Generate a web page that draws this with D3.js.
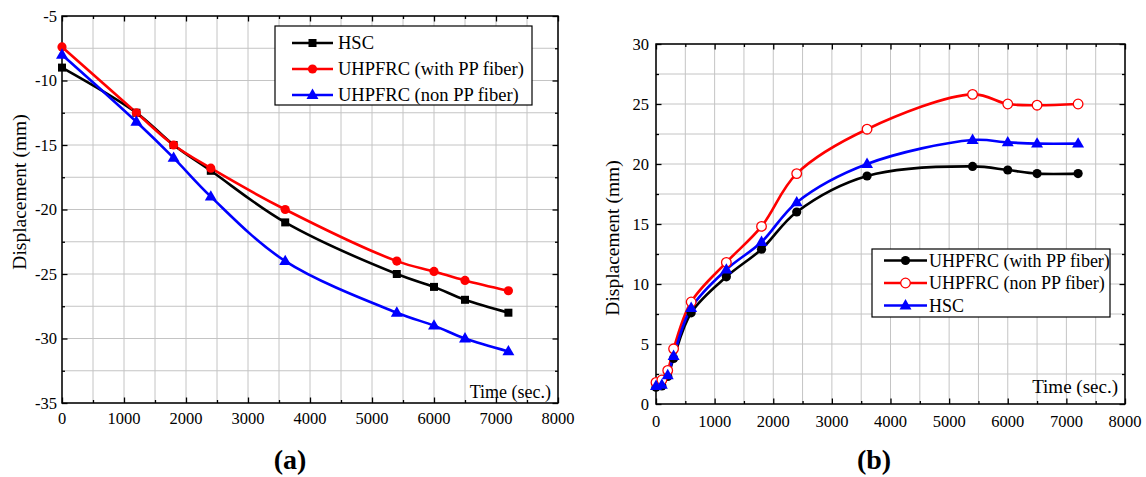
<!DOCTYPE html>
<html>
<head>
	<meta charset="utf-8">
	<title>Displacement vs time</title>
	<script src="https://d3js.org/d3.v7.min.js"></script>
	<style>
		body { margin: 0; background: #fff; }
		svg text { font-family: "Liberation Serif", "Times New Roman", "DejaVu Serif", serif; fill: #000; }
	</style>
</head>
<body>
	<svg id="chart" width="1146" height="477"></svg>
	<script type="text/javascript">
		// data ...............................
		var timeA = [0, 1200, 1800, 2400, 3600, 5400, 6000, 6500, 7200];
		var hscA = [-9, -12.5, -15, -17, -21, -25, -26, -27, -28];
		var withPPA = [-7.4, -12.5, -15, -16.8, -20, -24, -24.8, -25.5, -26.3];
		var nonPPA = [-8, -13.2, -16, -19, -24, -28, -29, -30, -31];

		var timeB = [0, 100, 200, 300, 600, 1200, 1800, 2400, 3600, 5400, 6000, 6500, 7200];
		var withPPB = [1.4, 1.5, 2.3, 3.8, 7.6, 10.6, 12.9, 16.0, 19.0, 19.8, 19.5, 19.2, 19.2];
		var nonPPB = [1.8, 2.0, 2.8, 4.6, 8.5, 11.8, 14.8, 19.2, 22.9, 25.8, 25.0, 24.9, 25.0];
		var hscB = [1.5, 1.6, 2.4, 4.0, 8.0, 11.2, 13.5, 16.8, 20.0, 22.0, 21.8, 21.7, 21.7];

		var xTicks = [0, 1000, 2000, 3000, 4000, 5000, 6000, 7000, 8000];
		var yTicksA = [-35, -30, -25, -20, -15, -10, -5];
		var yTicksB = [0, 5, 10, 15, 20, 25, 30];

		var legendA = ['HSC', 'UHPFRC (with PP fiber)', 'UHPFRC (non PP fiber)'];
		var legendB = ['UHPFRC (with PP fiber)', 'UHPFRC (non PP fiber)', 'HSC'];

		var svg = d3.select('#chart');

		//marker drawing.....................
		function marker(g, type, color, x, y) {
			if (type === 'square') {
				g.append('rect').attr('x', x - 4).attr('y', y - 4).attr('width', 8).attr('height', 8)
					.attr('fill', color);
			} else if (type === 'circle') {
				g.append('circle').attr('cx', x).attr('cy', y).attr('r', 4.6).attr('fill', color);
			} else if (type === 'open') {
				g.append('circle').attr('cx', x).attr('cy', y).attr('r', 4.8)
					.attr('fill', '#fff').attr('stroke', color).attr('stroke-width', 1.3);
			} else {
				g.append('path').attr('d', d3.symbol().type(d3.symbolTriangle).size(62)())
					.attr('transform', 'translate(' + x + ',' + (y + 0.5) + ')').attr('fill', color);
			}
		}

		//panel.................................
		function panel(p) {
			var x = d3.scaleLinear().domain([0, 8000]).range([p.left, p.right]);
			var y = d3.scaleLinear().domain(p.yDomain).range([p.bottom, p.top]);
			var g = svg.append('g');

			// grid
			var xMinor = d3.range(0, 8001, 500);
			var yMinor = d3.range(p.yDomain[0], p.yDomain[1] + 0.01, 2.5);
			g.selectAll('.gx').data(xMinor).enter().append('line')
				.attr('x1', d => x(d)).attr('x2', d => x(d)).attr('y1', p.top).attr('y2', p.bottom)
				.attr('stroke', '#c4c4c4').attr('stroke-width', 1);
			g.selectAll('.gy').data(yMinor).enter().append('line')
				.attr('y1', d => y(d)).attr('y2', d => y(d)).attr('x1', p.left).attr('x2', p.right)
				.attr('stroke', '#c4c4c4').attr('stroke-width', 1);

			// inward ticks on all four sides
			var bottomAx = d3.axisBottom(x).tickValues(xMinor).tickSize(-5).tickFormat('');
			var topAx = d3.axisTop(x).tickValues(xMinor).tickSize(-5).tickFormat('');
			var leftAx = d3.axisLeft(y).tickValues(yMinor).tickSize(-5).tickFormat('');
			var rightAx = d3.axisRight(y).tickValues(yMinor).tickSize(-5).tickFormat('');
			var axes = [
				g.append('g').attr('transform', 'translate(0,' + p.bottom + ')').call(bottomAx),
				g.append('g').attr('transform', 'translate(0,' + p.top + ')').call(topAx),
				g.append('g').attr('transform', 'translate(' + p.left + ',0)').call(leftAx),
				g.append('g').attr('transform', 'translate(' + p.right + ',0)').call(rightAx)
			];
			axes.forEach(function(a) {
				a.select('.domain').remove();
				a.selectAll('line').attr('stroke', '#000').attr('stroke-width', 1.3);
			});
			// shorter minor ticks
			axes[0].selectAll('.tick line').attr('y2', d => d % 1000 === 0 ? -5.5 : -3);
			axes[1].selectAll('.tick line').attr('y2', d => d % 1000 === 0 ? 5.5 : 3);
			axes[2].selectAll('.tick line').attr('x2', d => d % 5 === 0 ? 5.5 : 3);
			axes[3].selectAll('.tick line').attr('x2', d => d % 5 === 0 ? -5.5 : -3);

			g.append('rect').attr('x', p.left).attr('y', p.top)
				.attr('width', p.right - p.left).attr('height', p.bottom - p.top)
				.attr('fill', 'none').attr('stroke', '#000').attr('stroke-width', 1.5);

			// tick labels
			g.selectAll('.xl').data(xTicks).enter().append('text')
				.attr('x', d => x(d)).attr('y', p.bottom + p.xLabelDy)
				.attr('text-anchor', 'middle').attr('dominant-baseline', 'central')
				.style('font-size', '16.5px').text(d => d);
			g.selectAll('.yl').data(p.yTicks).enter().append('text')
				.attr('x', p.left - p.yLabelDx).attr('y', d => y(d))
				.attr('text-anchor', 'end').attr('dominant-baseline', 'central')
				.style('font-size', '16.5px').text(d => d);

			// axis titles
			g.append('text').attr('transform', 'translate(' + p.yTitleX + ',' + p.yTitleY + ') rotate(-90)')
				.attr('text-anchor', 'middle').attr('dominant-baseline', 'central')
				.style('font-size', '19.5px').text('Displacement (mm)');
			g.append('text').attr('x', p.right - 7).attr('y', p.timeY)
				.attr('text-anchor', 'end').attr('dominant-baseline', 'central')
				.style('font-size', p.timeSize).text('Time (sec.)');

			// series
			var line = d3.line().x(d => x(d[0])).y(d => y(d[1])).curve(d3.curveCatmullRom.alpha(0.5));
			p.series.forEach(function(s) {
				var pts = p.time.map((t, i) => [t, s.values[i]]);
				g.append('path').datum(pts).attr('d', line)
					.attr('fill', 'none').attr('stroke', s.color).attr('stroke-width', 2.6);
			});
			p.series.forEach(function(s) {
				p.time.forEach(function(t, i) { marker(g, s.marker, s.color, x(t), y(s.values[i])); });
			});

			// legend
			var L = p.legend;
			g.append('rect').attr('x', L.x).attr('y', L.y).attr('width', L.w).attr('height', L.h)
				.attr('fill', '#fff').attr('stroke', '#000').attr('stroke-width', 1.2);
			p.series.forEach(function(s, i) {
				var ry = L.y + L.first + i * L.step;
				g.append('line').attr('x1', L.x + L.l1).attr('x2', L.x + L.l2).attr('y1', ry).attr('y2', ry)
					.attr('stroke', s.color).attr('stroke-width', 2.6);
				marker(g, s.marker, s.color, L.x + (L.l1 + L.l2) / 2, ry);
				g.append('text').attr('x', L.x + L.tx).attr('y', ry).attr('dominant-baseline', 'central')
					.style('font-size', L.size).text(s.name);
			});

			// panel letter
			g.append('text').attr('x', p.letterX).attr('y', 459).attr('text-anchor', 'middle')
				.attr('dominant-baseline', 'central').style('font-size', '28px').style('font-weight', 'bold')
				.text(p.letter);
		}

		panel({
			left: 62, right: 558, top: 16, bottom: 403,
			yDomain: [-35, -5], yTicks: yTicksA, time: timeA,
			xLabelDy: 15, yLabelDx: 5, yTitleX: 19, yTitleY: 192, timeY: 392, timeSize: '18px',
			series: [
				{ name: legendA[0], values: hscA, color: '#000', marker: 'square' },
				{ name: legendA[1], values: withPPA, color: '#ff0000', marker: 'circle' },
				{ name: legendA[2], values: nonPPA, color: '#0000ff', marker: 'triangle' }
			],
			legend: { x: 275, y: 26, w: 257, h: 79, first: 17, step: 26, l1: 17, l2: 58, tx: 63, size: '18.5px' },
			letter: '(a)', letterX: 290
		});

		panel({
			left: 656, right: 1125, top: 44, bottom: 404,
			yDomain: [0, 30], yTicks: yTicksB, time: timeB,
			xLabelDy: 17, yLabelDx: 7, yTitleX: 612, yTitleY: 238, timeY: 386, timeSize: '19px',
			series: [
				{ name: legendB[0], values: withPPB, color: '#000', marker: 'circle' },
				{ name: legendB[1], values: nonPPB, color: '#ff0000', marker: 'open' },
				{ name: legendB[2], values: hscB, color: '#0000ff', marker: 'triangle' }
			],
			legend: { x: 872, y: 249, w: 238, h: 68, first: 11.5, step: 22.5, l1: 12, l2: 55, tx: 57, size: '18px' },
			letter: '(b)', letterX: 874
		});
	</script>
</body>
</html>
